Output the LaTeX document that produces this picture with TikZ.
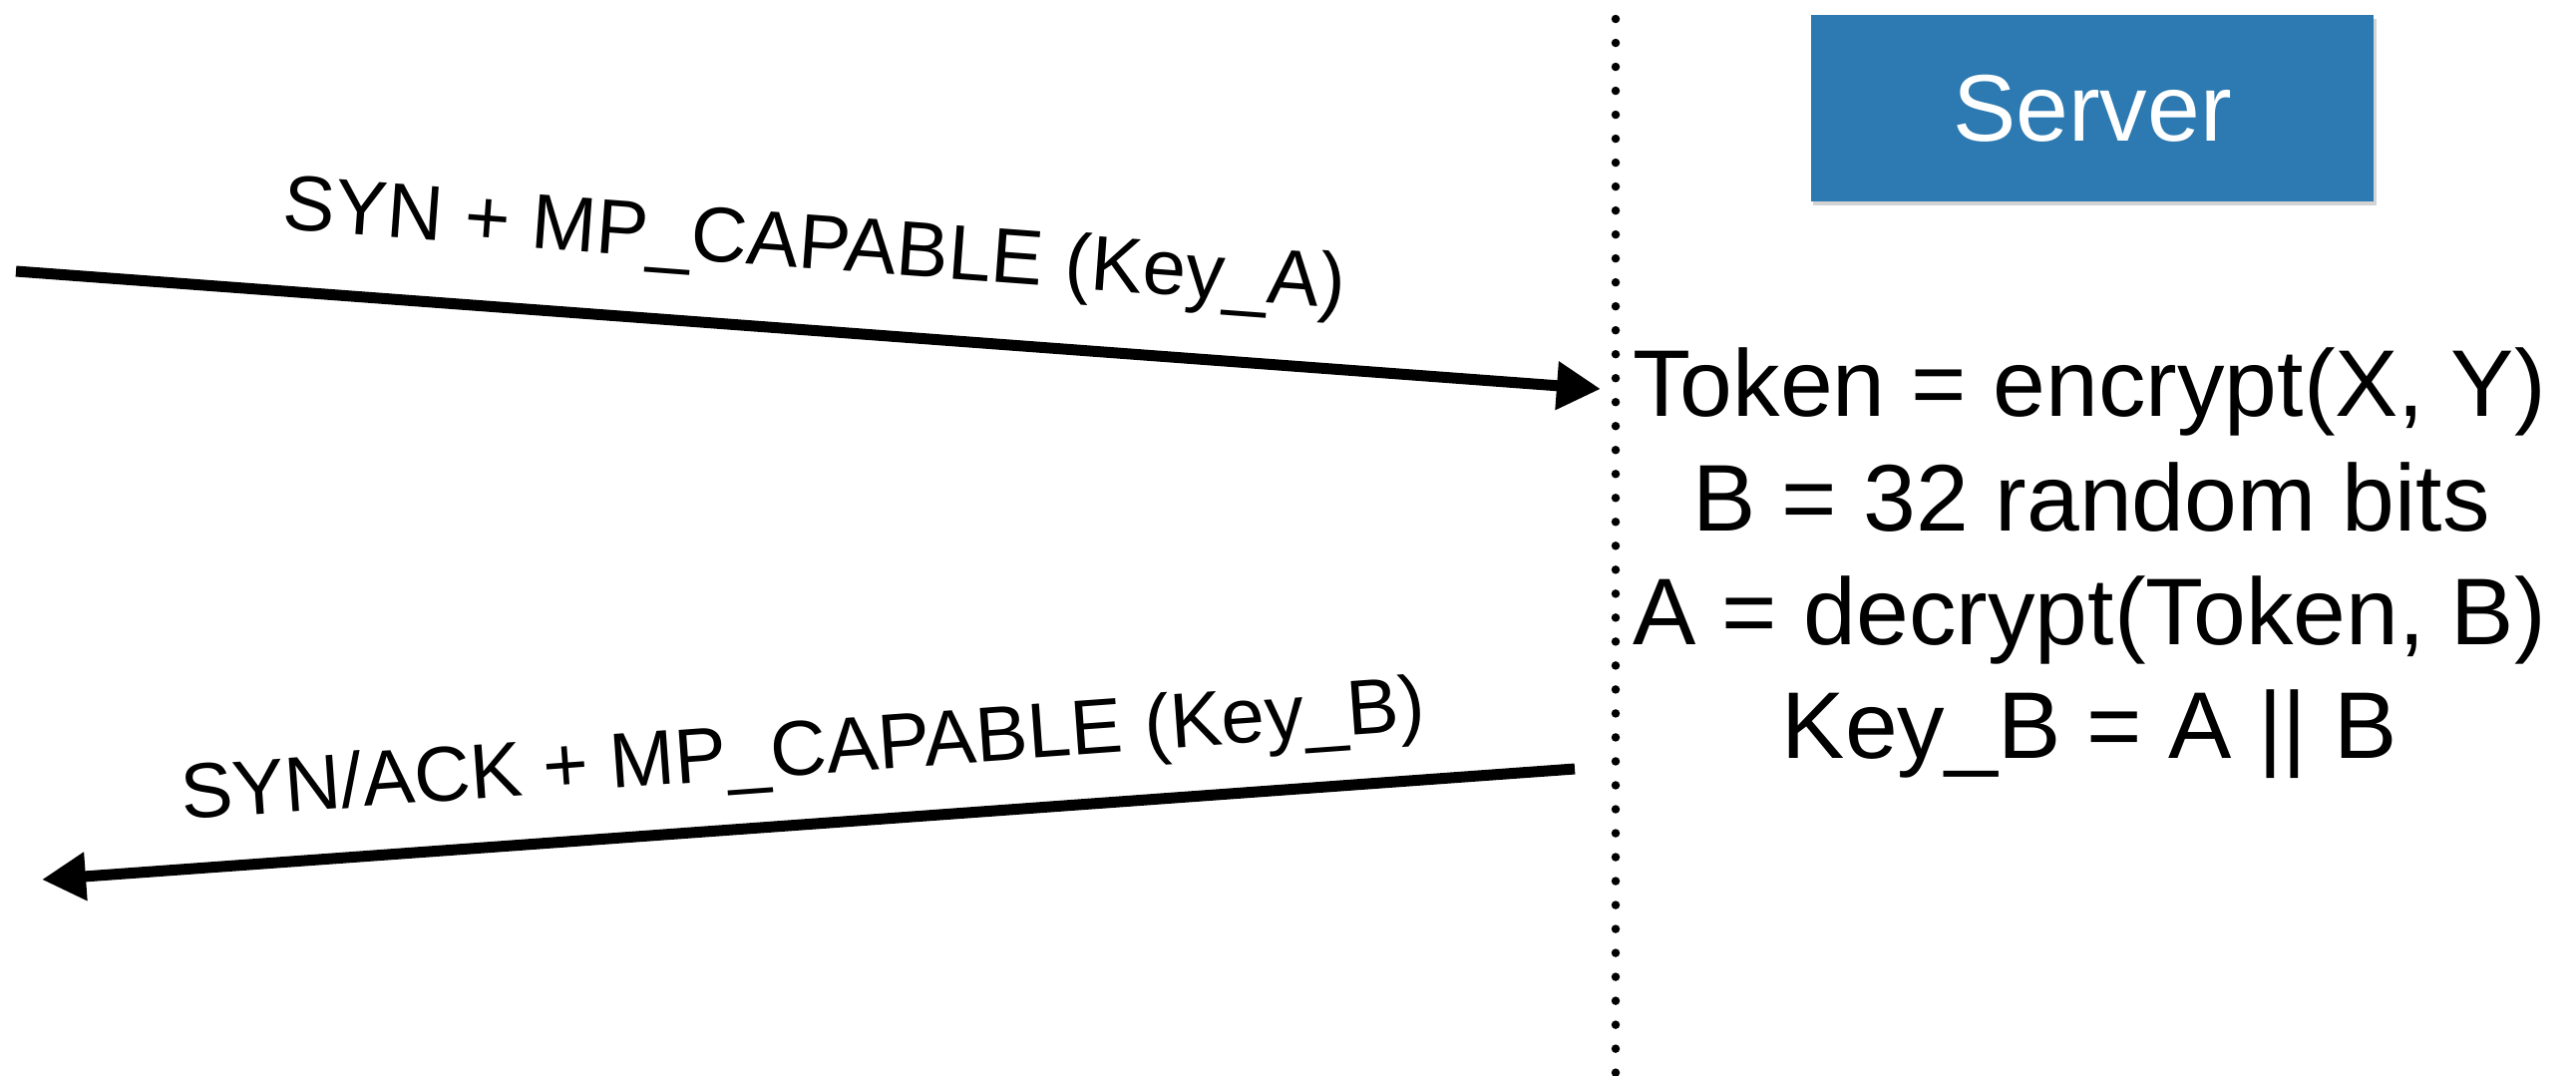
\documentclass[tikz,border=0pt]{standalone}
\usepackage{fontspec}
\setmainfont{Liberation Sans}
\usetikzlibrary{arrows.meta,shadows}
\definecolor{serverblue}{RGB}{44,122,177}
\begin{document}
\begin{tikzpicture}[x=0.01cm,y=-0.01cm,
  msg/.style={line width=0.11cm,-{Triangle[length=0.44cm,width=0.46cm]}},
  msglabel/.style={font=\fontsize{22.2}{26}\selectfont,inner sep=0pt,sloped},
  lifeline/.style={line width=0.085cm,line cap=round,dash pattern=on 0pt off 0.24cm},
  serverbox/.style={fill=serverblue,text=white,minimum width=5.64cm,minimum height=1.87cm,
    inner sep=0pt,font=\fontsize{27}{32}\selectfont,
    drop shadow={shadow xshift=0.025cm,shadow yshift=-0.04cm,opacity=0.35}},
  step line/.style={font=\fontsize{27}{32}\selectfont,inner sep=0pt,anchor=base}]
  \useasboundingbox (0,0) rectangle (2583,1078);

  % server lifeline
  \coordinate (ltop) at (1620,19);
  \coordinate (lbot) at (1620,1078);
  \draw[lifeline] (ltop) -- (lbot);

  % server header
  \node[serverbox] (server) at (2098,108.5) {Server};

  % server-side computation
  \node[step line] (t1) at (2095,417) {Token = encrypt(X, Y)};
  \node[step line] (t2) at (2097,532) {B = 32 random bits};
  \node[step line] (t3) at (2095,646) {A = decrypt(Token, B)};
  \node[step line] (t4) at (2095,760) {Key\_B = A || B};

  % messages
  \coordinate (synfrom) at (16,272);
  \coordinate (synto) at (1605,390);
  \coordinate (ackfrom) at (1579,771);
  \coordinate (ackto) at (42,882);

  \draw[msg] (synfrom) -- node[msglabel,above=0.40cm,pos=0.5] (synlabel) {SYN + MP\_CAPABLE (Key\_A)} (synto);
  \draw[msg] (ackfrom) -- node[msglabel,above=0.28cm,pos=0.5] (acklabel) {SYN/ACK + MP\_CAPABLE (Key\_B)} (ackto);
\end{tikzpicture}
\end{document}
